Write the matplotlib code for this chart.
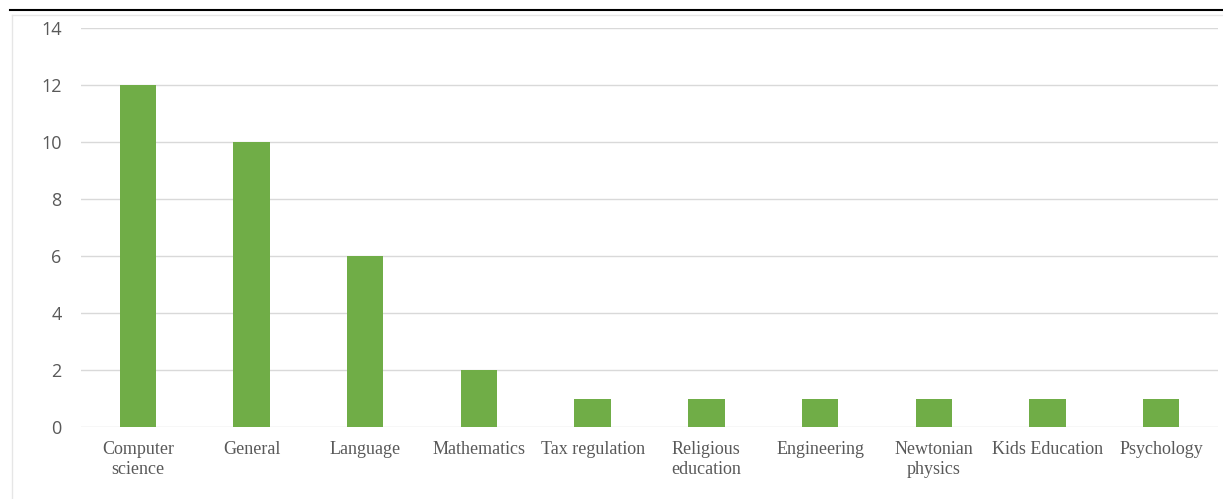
import matplotlib.pyplot as plt
from matplotlib.lines import Line2D

categories = ["Computer\nscience", "General", "Language", "Mathematics", "Tax regulation",
              "Religious\neducation", "Engineering", "Newtonian\nphysics", "Kids Education", "Psychology"]
counts = [12, 10, 6, 2, 1, 1, 1, 1, 1, 1]
y_ticks = [0, 2, 4, 6, 8, 10, 12, 14]

W, H = 1223, 499
fig = plt.figure(figsize=(W / 100, H / 100), dpi=100)
ax = fig.add_axes([81 / W, 1 - 427 / H, (1218 - 81) / W, (427 - 28) / H])

x = range(len(categories))
ax.bar(x, counts, width=0.32, color="#70AD47", zorder=3)
ax.set_xlim(-0.5, len(categories) - 0.5)
ax.set_ylim(0, 14)
ax.set_yticks(y_ticks)
ax.set_yticklabels([str(v) for v in y_ticks], fontsize=13, color="#595959", family="Open Sans")
ax.set_xticks(list(x))
ax.set_xticklabels(categories, fontsize=13, color="#595959", family="Liberation Serif",
                   linespacing=1.25)
ax.tick_params(axis="both", length=0)
ax.tick_params(axis="y", pad=14)
ax.tick_params(axis="x", pad=10)
ax.grid(axis="y", color="#d9d9d9", linewidth=1, zorder=0)
for s in ax.spines.values():
    s.set_visible(False)

# frame bits around the chart
fig.add_artist(Line2D([10 / W, 1], [1 - 10 / H, 1 - 10 / H], color="black", linewidth=1.5))
fig.add_artist(Line2D([12 / W, 1], [1 - 15 / H, 1 - 15 / H], color="#e6e6e6", linewidth=1))
fig.add_artist(Line2D([12 / W, 12 / W], [0, 1 - 15 / H], color="#e6e6e6", linewidth=1))

fig.savefig("out.png", dpi=100)
